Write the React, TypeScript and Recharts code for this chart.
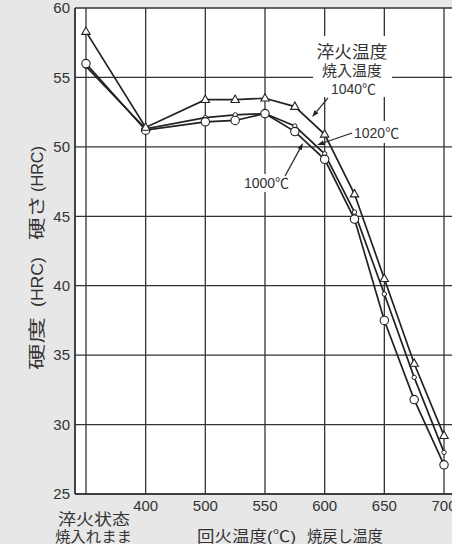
import React from 'react';
import { LineChart, Line, XAxis, YAxis, CartesianGrid, ReferenceArea, ReferenceLine, ReferenceDot } from 'recharts';

// x positions on the (non-linear) tempering axis: 0 = as-quenched, 1 = 400, 2 = 500 ... 6 = 700
const temperPos = [0, 1, 2, 2.5, 3, 3.5, 4, 4.5, 5, 5.5, 6];
const temperNames = ['淬火状态', '400', '500', '525', '550', '575', '600', '625', '650', '675', '700'];
const hrc1040 = [58.3, 51.4, 53.4, 53.4, 53.5, 52.9, 50.9, 46.6, 40.5, 34.4, 29.2];
const hrc1020 = [55.8, 51.3, 52.1, 52.3, 52.4, 51.5, 49.5, 45.3, 39.4, 33.4, 28.0];
const hrc1000 = [56.0, 51.2, 51.8, 51.9, 52.4, 51.1, 49.1, 44.8, 37.5, 31.8, 27.1];

const xTicks = [0, 1, 2, 3, 4, 5, 6];
const xTickLabels = ['', '400', '500', '550', '600', '650', '700'];
const yTicks = [25, 30, 35, 40, 45, 50, 55, 60];
const quenchLabels = ['淬火状态', '焼入れまま'];
const xTitle = ['回火温度(℃)', '焼戻し温度'];
const yTitle = ['硬度', '(HRC)', '硬さ', '(HRC)'];
const legendTitle = ['淬火温度', '焼入温度'];
const seriesNames = ['1040℃', '1020℃', '1000℃'];

const data = temperPos.map((x, i) => ({
  x,
  name: temperNames[i],
  h1040: hrc1040[i],
  h1020: hrc1020[i],
  h1000: hrc1000[i],
}));

const FONT = "'Liberation Sans', Arial, 'Noto Sans CJK JP', sans-serif";
const INK = '#222';
const TXT = '#333';

const TriDot = (p: any) => {
  const { cx, cy, index } = p;
  if (cx == null || cy == null) return <g key={`t${index}`} />;
  return (
    <polygon
      key={`t${index}`}
      points={`${cx},${cy - 4.6} ${cx - 4.2},${cy + 2.8} ${cx + 4.2},${cy + 2.8}`}
      fill="#fff"
      stroke={INK}
      strokeWidth={1.1}
    />
  );
};
const BigDot = (p: any) => {
  const { cx, cy, index } = p;
  if (cx == null || cy == null) return <g key={`b${index}`} />;
  return <circle key={`b${index}`} cx={cx} cy={cy} r={4.2} fill="#fff" stroke={INK} strokeWidth={1.1} />;
};
const SmallDot = (p: any) => {
  const { cx, cy, index } = p;
  if (cx == null || cy == null) return <g key={`s${index}`} />;
  return <circle key={`s${index}`} cx={cx} cy={cy} r={2.2} fill="#fff" stroke={INK} strokeWidth={1} />;
};

const XTick = (p: any) => {
  const { x, y, payload } = p;
  const v = payload.value;
  if (v === 0) {
    return (
      <g fontFamily={FONT} fill={TXT}>
        <text x={x - 28} y={y + 31} fontSize={16} textLength={72} lengthAdjust="spacingAndGlyphs">{quenchLabels[0]}</text>
        <text x={x - 31} y={y + 48} fontSize={14.5} textLength={77} lengthAdjust="spacingAndGlyphs">{quenchLabels[1]}</text>
      </g>
    );
  }
  return (
    <text x={x} y={y + 17} textAnchor="middle" fontFamily={FONT} fontSize={15} fill={TXT}>
      {xTickLabels[xTicks.indexOf(v)]}
    </text>
  );
};

const XTitle = () => (
  <g fontFamily={FONT} fill={TXT}>
    <text x={197} y={542} fontSize={15.5} textLength={99} lengthAdjust="spacingAndGlyphs">{xTitle[0]}</text>
    <text x={307} y={542} fontSize={15.5} textLength={76} lengthAdjust="spacingAndGlyphs">{xTitle[1]}</text>
  </g>
);

const YTitle = () => (
  <g transform="rotate(-90)" fontFamily={FONT} fill={TXT}>
    <text x={-370} y={43} fontSize={17} textLength={53} lengthAdjust="spacingAndGlyphs">{yTitle[0]}</text>
    <text x={-307} y={43} fontSize={17} textLength={50} lengthAdjust="spacingAndGlyphs">{yTitle[1]}</text>
    <text x={-240} y={43} fontSize={17} textLength={45} lengthAdjust="spacingAndGlyphs">{yTitle[2]}</text>
    <text x={-192} y={43} fontSize={17} textLength={46} lengthAdjust="spacingAndGlyphs">{yTitle[3]}</text>
  </g>
);

const Arrow = (p: any) => {
  const { x1, y1, x2, y2 } = p;
  if ([x1, y1, x2, y2].some((v) => v == null || isNaN(v))) return <g />;
  const ang = Math.atan2(y2 - y1, x2 - x1);
  const L = 7;
  const W = 2.4;
  const bx = x2 - L * Math.cos(ang);
  const by = y2 - L * Math.sin(ang);
  const px = -Math.sin(ang) * W;
  const py = Math.cos(ang) * W;
  return (
    <g>
      <line x1={x1} y1={y1} x2={bx} y2={by} stroke={INK} strokeWidth={1.2} />
      <polygon points={`${x2},${y2} ${bx + px},${by + py} ${bx - px},${by - py}`} fill={INK} />
    </g>
  );
};

const textShape = (txt: string, fs: number, len?: number) => (p: any) => {
  const { cx, cy } = p;
  if (cx == null || cy == null) return <g />;
  return (
    <text
      x={cx}
      y={cy + fs * 0.36}
      textAnchor="middle"
      fontFamily={FONT}
      fontSize={fs}
      fill={TXT}
      {...(len ? { textLength: len, lengthAdjust: 'spacingAndGlyphs' } : {})}
    >
      {txt}
    </text>
  );
};

export default function App() {
  return (
    <div style={{ width: 452, height: 544, overflow: 'hidden', background: '#e7e7e7', position: 'relative' }}>
      <style>{'body{margin:0;overflow:hidden;}'}</style>
      <LineChart width={462} height={544} data={data} margin={{ top: 8, right: 6, bottom: 0, left: 0 }}>
        <CartesianGrid stroke="#333" strokeWidth={1.3} fill="#ffffff" fillOpacity={1} />
        <XAxis
          type="number"
          dataKey="x"
          domain={[-0.184, 6.201]}
          allowDataOverflow
          ticks={xTicks}
          interval={0}
          tick={<XTick />}
          tickLine={false}
          tickSize={0}
          tickMargin={0}
          axisLine={{ stroke: '#333', strokeWidth: 1.5 }}
          height={50}
          label={<XTitle />}
        />
        <YAxis
          type="number"
          domain={[25, 60]}
          ticks={yTicks}
          interval={0}
          allowDataOverflow
          width={75}
          tickLine={false}
          tickSize={3}
          tickMargin={2}
          tick={{ fontSize: 15, fill: TXT, fontFamily: FONT }}
          axisLine={{ stroke: '#333', strokeWidth: 1.5 }}
          label={<YTitle />}
        />
        <ReferenceArea x1={3.806} x2={5.13} y1={53.59} y2={57.98} fill="#fff" fillOpacity={1} stroke="none" />
        <ReferenceArea x1={4.493} x2={5.264} y1={50.28} y2={51.86} fill="#fff" fillOpacity={1} stroke="none" />
        <ReferenceArea x1={2.632} x2={3.42} y1={46.75} y2={48.05} fill="#fff" fillOpacity={1} stroke="none" />
        <Line dataKey="h1020" stroke={INK} strokeWidth={1.7} dot={SmallDot} isAnimationActive={false} />
        <Line dataKey="h1000" stroke={INK} strokeWidth={1.7} dot={BigDot} isAnimationActive={false} />
        <Line dataKey="h1040" stroke={INK} strokeWidth={1.7} dot={TriDot} isAnimationActive={false} />
        <ReferenceLine segment={[{ x: 4.057, y: 53.52 }, { x: 3.789, y: 52.15 }]} shape={Arrow} />
        <ReferenceLine segment={[{ x: 4.459, y: 51.0 }, { x: 3.873, y: 50.13 }]} shape={Arrow} />
        <ReferenceLine segment={[{ x: 3.336, y: 47.9 }, { x: 3.638, y: 50.28 }]} shape={Arrow} />
        <ReferenceDot x={4.46} y={56.85} r={0} shape={textShape(legendTitle[0], 17, 71)} />
        <ReferenceDot x={4.46} y={55.5} r={0} shape={textShape(legendTitle[1], 15, 60)} />
        <ReferenceDot x={4.484} y={54.17} r={0} shape={textShape(seriesNames[0], 14)} />
        <ReferenceDot x={4.87} y={51.0} r={0} shape={textShape(seriesNames[1], 14)} />
        <ReferenceDot x={3.026} y={47.4} r={0} shape={textShape(seriesNames[2], 14)} />
      </LineChart>
    </div>
  );
}
